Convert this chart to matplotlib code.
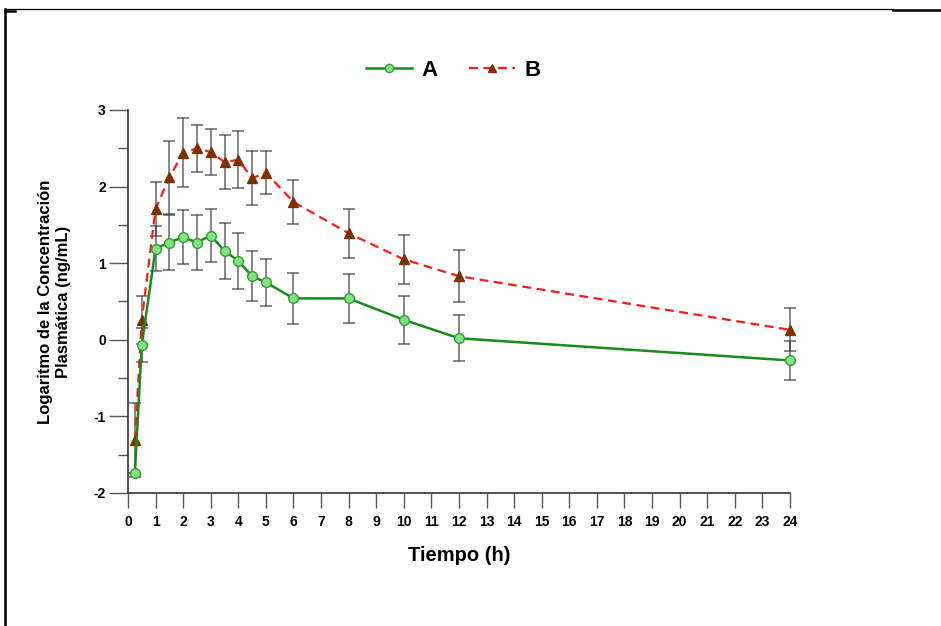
import matplotlib
matplotlib.use("Agg")
import matplotlib.pyplot as plt
from matplotlib.lines import Line2D
from matplotlib.ticker import MultipleLocator

plt.rcParams['font.family'] = ['Liberation Sans', 'DejaVu Sans']
plt.rcParams['axes.unicode_minus'] = False

# Data (log plasma concentration, mean +/- error)
tiempo = [0.25, 0.5, 1, 1.5, 2, 2.5, 3, 3.5, 4, 4.5, 5, 6, 8, 10, 12, 24]
a_mean = [-1.74, -0.07, 1.19, 1.27, 1.34, 1.27, 1.36, 1.16, 1.03, 0.83, 0.75, 0.54, 0.54, 0.26, 0.02, -0.27]
a_err = [0.0, 0.22, 0.29, 0.36, 0.35, 0.36, 0.35, 0.36, 0.37, 0.33, 0.31, 0.33, 0.32, 0.31, 0.30, 0.25]
b_mean = [-1.31, 0.26, 1.71, 2.12, 2.44, 2.50, 2.45, 2.32, 2.35, 2.11, 2.18, 1.80, 1.39, 1.05, 0.83, 0.13]
b_err = [0.48, 0.31, 0.35, 0.48, 0.45, 0.31, 0.30, 0.35, 0.37, 0.35, 0.28, 0.29, 0.32, 0.32, 0.34, 0.28]

x_ticks = list(range(0, 25))
y_ticks = [-2, -1, 0, 1, 2, 3]

fig = plt.figure(figsize=(9.41, 6.26), dpi=100, facecolor='white')
ax = fig.add_axes([0.136, 0.2125, 0.7035, 0.6118])

err_kw = dict(ecolor='#333333', elinewidth=1.1, capsize=4, capthick=1.1, alpha=0.75)

ax.errorbar(tiempo, b_mean, yerr=b_err, fmt='none', zorder=2, clip_on=False, **err_kw)
ax.errorbar(tiempo, a_mean, yerr=a_err, fmt='none', zorder=2, clip_on=False, **err_kw)

ax.plot(tiempo, a_mean, color='#1a8a1a', lw=1.8, marker='o', ms=7,
        mfc='#7fe57f', mec='#3a9a3a', mew=1.0, label='A', zorder=4, clip_on=False)
ax.plot(tiempo, b_mean, color='#ff1a1a', lw=1.6, ls=(0, (4, 2.5)), marker='^', ms=7,
        mfc='#7a3300', mec='#7a3300', label='B', zorder=3, clip_on=False)

ax.set_xlim(0, 24)
ax.set_ylim(-2, 3)
ax.set_xticks(x_ticks)
ax.set_yticks(y_ticks)
ax.yaxis.set_minor_locator(MultipleLocator(0.5))

for s in ['top', 'right']:
    ax.spines[s].set_visible(False)
for s in ['left', 'bottom']:
    ax.spines[s].set_linewidth(1.2)
    ax.spines[s].set_color('#333333')

ax.tick_params(axis='x', which='major', length=11, width=1, color='#555555',
               labelsize=10, pad=5)
ax.tick_params(axis='y', which='major', length=14, width=1, color='#555555',
               labelsize=10, pad=2)
ax.tick_params(axis='y', which='minor', length=7, width=1, color='#555555')
for lab in ax.get_xticklabels() + ax.get_yticklabels():
    lab.set_fontweight('bold')

ax.set_xlabel('Tiempo (h)', fontsize=14.5, fontweight='bold', labelpad=12)
ax.set_ylabel('Logaritmo de la Concentración\nPlasmática (ng/mL)', fontsize=12,
              fontweight='bold', labelpad=16, linespacing=1.3)

leg = ax.legend(loc='center', bbox_to_anchor=(0.491, 1.104), ncol=2, frameon=False,
                prop={'weight': 'bold', 'size': 16}, handlelength=2.1,
                columnspacing=1.4, handletextpad=0.4, markerscale=0.85)

# outer frame lines
fig.add_artist(Line2D([0.0055, 0.949], [0.985, 0.985], transform=fig.transFigure,
                      color='black', lw=0.9))
fig.add_artist(Line2D([0.949, 1.0], [0.984, 0.984], transform=fig.transFigure,
                      color='black', lw=1.8))
fig.add_artist(Line2D([0.0055, 0.0055], [0.0, 0.985], transform=fig.transFigure,
                      color='black', lw=1.8))
fig.add_artist(Line2D([0.0055, 0.016], [0.982, 0.982], transform=fig.transFigure,
                      color='black', lw=1.8))

fig.savefig('out.png', dpi=100, facecolor='white')
